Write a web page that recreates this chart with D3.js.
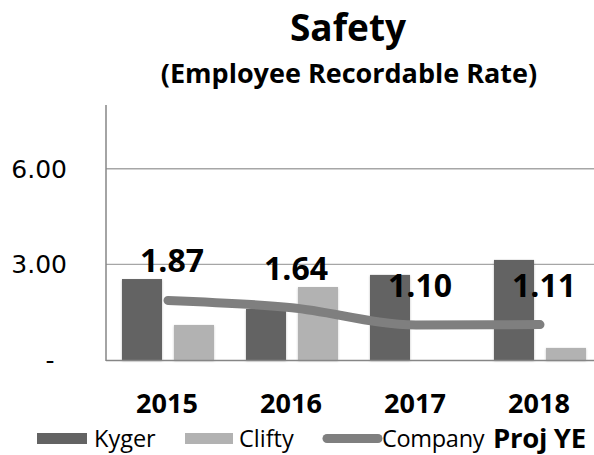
<!DOCTYPE html>
<html>
<head>
<meta charset="utf-8">
<script src="https://cdn.jsdelivr.net/npm/d3@7"></script>
<style>
    body { margin: 0; background: #fff; }
    #chart { width: 594px; height: 455px; overflow: hidden; }
</style>
</head>
<body>
<div id="chart"></div>
<script>
// values
var years = ['2015', '2016', '2017', '2018'];
var seriesNames = ['Kyger', 'Clifty'];
var kyger = [2.54, 1.60, 2.67, 3.14];
var clifty = [1.10, 2.29, 0, 0.38];
var company = [1.87, 1.64, 1.10, 1.11];
var yTicks = [0, 3, 6];
var yTickLabels = ['-', '3.00', '6.00'];

var width = 594, height = 455;
var colors = {Kyger: '#636363', Clifty: '#b2b2b2', Company: '#7f7f7f'};

var svg = d3.select('#chart').append('svg')
    .attr('width', width)
    .attr('height', height);

var defs = svg.append('defs');
defs.append('filter')
    .attr('id', 'shadow')
    .attr('x', '-20%').attr('y', '-20%').attr('width', '140%').attr('height', '140%')
    .append('feDropShadow')
    .attr('dx', 0).attr('dy', 1)
    .attr('stdDeviation', 1.2)
    .attr('flood-color', '#000')
    .attr('flood-opacity', 0.25);

// plot area
var plotLeft = 106, plotBottom = 360, plotTop = 105;
var x0 = d3.scaleBand().domain(years).range([plotLeft, plotLeft + 4 * 124])
    .paddingInner(0.258).paddingOuter(0.129);
var x1 = d3.scaleBand().domain(seriesNames).range([0, x0.bandwidth()]).paddingInner(0.23);
var y = d3.scaleLinear().domain([0, 8]).range([plotBottom, plotTop]);

// gridlines
svg.append('g')
    .selectAll('line')
    .data(yTicks.filter(d => d > 0))
    .enter().append('line')
    .attr('x1', plotLeft).attr('x2', width)
    .attr('y1', d => y(d)).attr('y2', d => y(d))
    .attr('stroke', '#a6a6a6')
    .attr('stroke-width', 1.3);

// y tick labels
svg.append('g')
    .selectAll('text')
    .data(yTicks)
    .enter().append('text')
    .attr('x', (d, i) => i === 0 ? 50 : 67)
    .attr('y', d => y(d) + 9)
    .attr('text-anchor', (d, i) => i === 0 ? 'middle' : 'end')
    .style('font-family', 'DejaVu Sans')
    .style('font-size', '25px')
    .attr('fill', '#000')
    .text((d, i) => yTickLabels[i]);

// bars
var groups = svg.append('g')
    .selectAll('g')
    .data(years)
    .enter().append('g')
    .attr('transform', d => 'translate(' + x0(d) + ',0)');

groups.selectAll('rect')
    .data((d, i) => [{key: 'Kyger', value: kyger[i]}, {key: 'Clifty', value: clifty[i]}]
        .filter(e => e.value > 0))
    .enter().append('rect')
    .attr('x', d => x1(d.key))
    .attr('y', d => y(d.value))
    .attr('width', x1.bandwidth())
    .attr('height', d => y(0) - y(d.value))
    .attr('fill', d => colors[d.key])
    .attr('filter', 'url(#shadow)');

// axes lines
svg.append('line')
    .attr('x1', plotLeft).attr('x2', plotLeft)
    .attr('y1', plotTop).attr('y2', plotBottom + 1)
    .attr('stroke', '#868686').attr('stroke-width', 1.5);
svg.append('line')
    .attr('x1', plotLeft).attr('x2', width)
    .attr('y1', plotBottom + 0.5).attr('y2', plotBottom + 0.5)
    .attr('stroke', '#868686').attr('stroke-width', 1.5);

// company line
var cx = d => x0(d) + x0.bandwidth() / 2;
var line = d3.line()
    .x((d, i) => cx(years[i]))
    .y(d => y(d))
    .curve(d3.curveMonotoneX);

svg.append('path')
    .datum(company)
    .attr('d', line)
    .attr('fill', 'none')
    .attr('stroke', colors.Company)
    .attr('stroke-width', 9)
    .attr('stroke-linecap', 'round')
    .attr('stroke-linejoin', 'round');

svg.append('g')
    .selectAll('text')
    .data(company)
    .enter().append('text')
    .attr('x', (d, i) => cx(years[i]) + 4)
    .attr('y', d => y(d) - 28)
    .attr('text-anchor', 'middle')
    .style('font-family', 'Open Sans')
    .style('font-weight', 'bold')
    .style('font-size', '32px')
    .attr('fill', '#000')
    .text(d => d.toFixed(2));

// year labels
svg.append('g')
    .selectAll('text')
    .data(years)
    .enter().append('text')
    .attr('x', d => cx(d) - 1)
    .attr('y', 413)
    .attr('text-anchor', 'middle')
    .style('font-family', 'Open Sans')
    .style('font-weight', 'bold')
    .style('font-size', '27px')
    .text(d => d);

// titles
svg.append('text')
    .attr('x', 348).attr('y', 41)
    .attr('text-anchor', 'middle')
    .style('font-family', 'Open Sans')
    .style('font-weight', 'bold')
    .style('font-size', '37px')
    .text('Safety');
svg.append('text')
    .attr('x', 349).attr('y', 83)
    .attr('text-anchor', 'middle')
    .style('font-family', 'Open Sans')
    .style('font-weight', 'bold')
    .style('font-size', '27px')
    .text('(Employee Recordable Rate)');

// legend
var legend = svg.append('g');
var legendFont = sel => sel.style('font-family', 'Open Sans').style('font-size', '23.5px');
legend.append('rect')
    .attr('x', 37).attr('y', 433).attr('width', 50).attr('height', 11)
    .attr('fill', colors.Kyger);
legend.append('text')
    .attr('x', 94).attr('y', 447)
    .call(legendFont)
    .text('Kyger');
legend.append('rect')
    .attr('x', 185).attr('y', 433).attr('width', 48).attr('height', 11)
    .attr('fill', colors.Clifty);
legend.append('text')
    .attr('x', 239).attr('y', 447)
    .call(legendFont)
    .text('Clifty');
legend.append('line')
    .attr('x1', 327).attr('x2', 378).attr('y1', 438.5).attr('y2', 438.5)
    .attr('stroke', colors.Company).attr('stroke-width', 9)
    .attr('stroke-linecap', 'round');
legend.append('text')
    .attr('x', 382).attr('y', 447)
    .call(legendFont)
    .style('letter-spacing', '-0.3px')
    .text('Company');
legend.append('text')
    .attr('x', 493).attr('y', 448)
    .style('font-family', 'Open Sans').style('font-weight', 'bold').style('font-size', '27.5px')
    .style('letter-spacing', '-0.3px')
    .text('Proj YE');
</script>
</body>
</html>
